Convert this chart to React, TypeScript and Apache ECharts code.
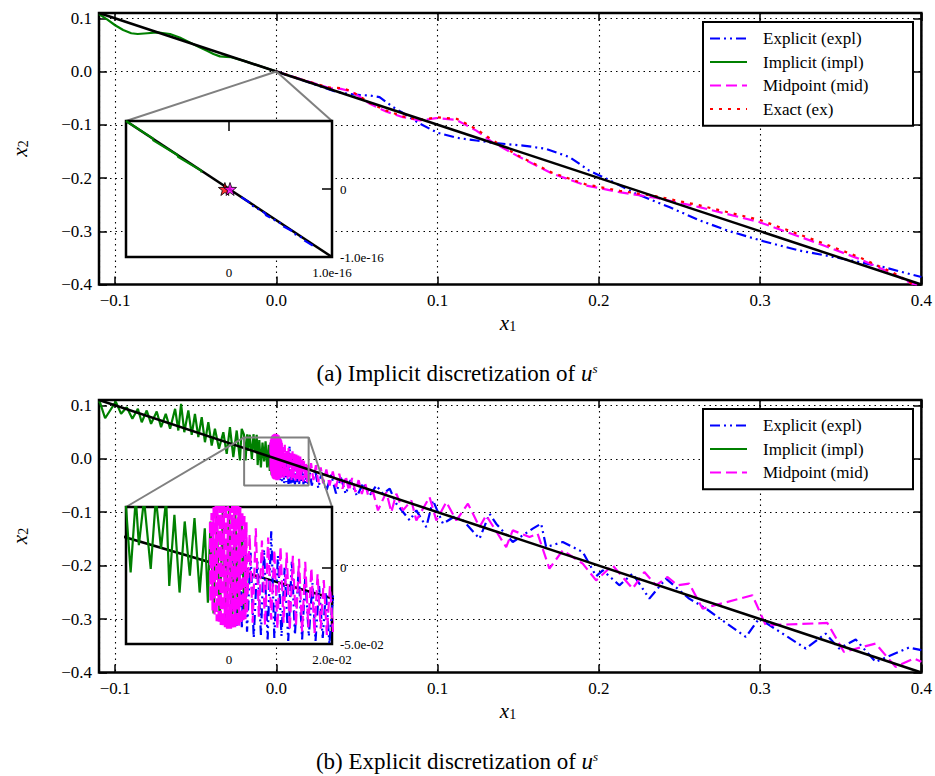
import React, { useEffect, useRef } from 'react';
import * as echarts from 'echarts';

// ---------- axis extents ----------
const MAIN_X = [-0.11, 0.4];
const MAIN_Y = [-0.4, 0.11];
const INSET_A_X = [-1e-16, 1e-16];
const INSET_A_Y = [-1e-16, 1e-16];
const INSET_B_X = [-0.02, 0.02];
const INSET_B_Y = [-0.05, 0.04];

// ---------- texts ----------
const legendA = ['Explicit (expl)', 'Implicit (impl)', 'Midpoint (mid)', 'Exact (ex)'];
const legendB = ['Explicit (expl)', 'Implicit (impl)', 'Midpoint (mid)'];
const captionA = '(a) Implicit discretization of ';
const captionB = '(b) Explicit discretization of ';

// ---------- reference line (black) ----------
const manifold = [[-0.11, 0.11], [0.4, -0.4]];
const manifoldInsetA = [[-1e-16, 1e-16], [1e-16, -1e-16]];

// ---------- panel (a) ----------
const explicitA = [[0, 0], [0.02, -0.02], [0.037, -0.038], [0.045, -0.042], [0.052, -0.044], [0.058, -0.045], [0.064, -0.048], [0.072, -0.066], [0.078, -0.077], [0.089, -0.098], [0.1, -0.115], [0.112, -0.1245], [0.124, -0.1295], [0.136, -0.1345], [0.153, -0.139], [0.167, -0.145], [0.182, -0.161], [0.194, -0.186], [0.2045, -0.201], [0.223, -0.2295], [0.244, -0.255], [0.262, -0.279], [0.28, -0.299], [0.3, -0.317], [0.324, -0.336], [0.345, -0.348], [0.36, -0.357], [0.376, -0.367], [0.4, -0.386]];
const implicitA = [[-0.11, 0.108], [-0.105, 0.098], [-0.1, 0.087], [-0.095, 0.078], [-0.09, 0.072], [-0.086, 0.0705], [-0.08, 0.072], [-0.074, 0.0735], [-0.066, 0.0705], [-0.06, 0.064], [-0.054, 0.055], [-0.048, 0.046], [-0.043, 0.039], [-0.039, 0.033], [-0.035, 0.0285], [-0.031, 0.0275], [-0.028, 0.027], [-0.02, 0.02], [0, 0]];
const midpointA = [[0, 0], [0.02, -0.019], [0.033, -0.031], [0.04, -0.0325], [0.046, -0.037], [0.052, -0.048], [0.058, -0.0606], [0.068, -0.075], [0.0785, -0.0857], [0.089, -0.0919], [0.0992, -0.0875], [0.1116, -0.0907], [0.124, -0.111], [0.134, -0.1326], [0.1508, -0.1607], [0.1714, -0.192], [0.192, -0.214], [0.2127, -0.2264], [0.235, -0.237], [0.2623, -0.2546], [0.2994, -0.2827], [0.3365, -0.3233], [0.361, -0.3514], [0.382, -0.3795], [0.394, -0.398], [0.4, -0.404]];
const exactA = [[0, 0], [0.02, -0.019], [0.033, -0.03], [0.04, -0.031], [0.046, -0.036], [0.052, -0.047], [0.058, -0.059], [0.068, -0.073], [0.078, -0.084], [0.089, -0.0905], [0.1, -0.086], [0.112, -0.089], [0.124, -0.108], [0.134, -0.129], [0.15, -0.158], [0.171, -0.19], [0.192, -0.212], [0.213, -0.224], [0.235, -0.234], [0.262, -0.251], [0.3, -0.279], [0.336, -0.319], [0.361, -0.348], [0.382, -0.377], [0.394, -0.398], [0.4, -0.41]];

// inset (a)
const insetAImplicit = [[-1.0e-16, 1.0e-16], [-0.74e-16, 0.745e-16], [-0.735e-16, 0.715e-16], [-0.5e-16, 0.5e-16], [-0.495e-16, 0.475e-16], [-0.27e-16, 0.27e-16], [-0.265e-16, 0.245e-16]];
const insetAExplicit = [[0.12e-16, -0.12e-16], [0.2e-16, -0.2e-16], [0.21e-16, -0.23e-16], [0.35e-16, -0.355e-16], [0.36e-16, -0.385e-16], [0.5e-16, -0.505e-16], [0.51e-16, -0.535e-16], [0.62e-16, -0.625e-16], [0.63e-16, -0.655e-16], [0.72e-16, -0.725e-16], [0.73e-16, -0.755e-16], [0.82e-16, -0.84e-16]];
const insetAExactStar = [[-0.04e-16, 0]];
const insetAMidStar = [[0.01e-16, 0]];

// ---------- panel (b) ----------
const implicitB = [[-0.11, 0.108], [-0.1093, 0.1047], [-0.1062, 0.0759], [-0.0996, 0.107], [-0.0963, 0.0841], [-0.0928, 0.0964], [-0.0893, 0.0748], [-0.0859, 0.0935], [-0.0835, 0.0684], [-0.0804, 0.0903], [-0.0777, 0.0654], [-0.0742, 0.0884], [-0.0715, 0.0591], [-0.0686, 0.0841], [-0.0659, 0.0561], [-0.0628, 0.0935], [-0.0608, 0.0529], [-0.0591, 0.1028], [-0.0571, 0.0497], [-0.0546, 0.0903], [-0.0525, 0.0449], [-0.0505, 0.0841], [-0.0484, 0.0404], [-0.0463, 0.0778], [-0.0443, 0.031], [-0.0422, 0.0684], [-0.0401, 0.0249], [-0.0381, 0.0561], [-0.0356, 0.0187], [-0.0329, 0.0497], [-0.0308, 0.0093], [-0.0288, 0.0591], [-0.0267, 0.003], [-0.0246, 0.0529], [-0.0226, -0.0032], [-0.0215, 0.0561],
  [-0.0201, 0.045], [-0.0191, -0.0029], [-0.0181, 0.046], [-0.0175, 0.0149], [-0.0165, 0.045], [-0.0152, -0.0007], [-0.0142, 0.046], [-0.0132, 0.0127], [-0.0122, 0.045], [-0.0116, -0.0118], [-0.0106, 0.0349], [-0.0096, -0.0162], [-0.0086, 0.0305], [-0.0076, -0.0051], [-0.0067, 0.0327], [-0.0057, -0.0162], [-0.0047, 0.026], [-0.0041, -0.0229], [-0.0036, 0.0305],
  [-0.003, -0.03], [-0.0024, 0.035], [-0.0018, -0.035], [-0.0012, 0.038], [-0.0006, -0.037], [0, 0.04], [0.0006, -0.038], [0.0012, 0.038], [0.0018, -0.037], [0.0024, 0.035], [0.003, -0.033], [0.0035, 0.0]];
const midpointB = [[-0.0037, 0.03], [-0.0036, -0.022], [-0.0034, 0.036], [-0.0032, -0.028], [-0.003, 0.04], [-0.0028, -0.032], [-0.0026, 0.043], [-0.0024, -0.035], [-0.0022, 0.045], [-0.002, -0.037], [-0.0018, 0.046], [-0.0016, -0.038], [-0.0014, 0.046], [-0.0012, -0.039], [-0.001, 0.047], [-0.0008, -0.039], [-0.0006, 0.047], [-0.0004, -0.04], [-0.0002, 0.047], [0, -0.04], [0.0002, 0.046], [0.0004, -0.04], [0.0006, 0.046], [0.0008, -0.04], [0.001, 0.045], [0.0012, -0.039], [0.0014, 0.044], [0.0016, -0.039], [0.0018, 0.042], [0.002, -0.038], [0.0022, 0.04], [0.0024, -0.037], [0.0026, 0.037], [0.0028, -0.036], [0.003, 0.034], [0.0032, -0.034], [0.0034, 0.03], [0.0035, -0.03],
  [0.004, 0.022], [0.0046, -0.036], [0.0052, 0.026], [0.0058, -0.032], [0.0064, 0.018], [0.007, -0.038], [0.0076, 0.02], [0.0082, -0.034], [0.0088, 0.012], [0.0094, -0.04], [0.01, 0.014], [0.0106, -0.036], [0.0112, 0.01], [0.0118, -0.041], [0.0124, 0.008], [0.013, -0.038], [0.0136, 0.006], [0.0142, -0.042], [0.0148, 0.004], [0.0154, -0.039], [0.016, 0.0], [0.0166, -0.043], [0.0172, -0.004], [0.0178, -0.04], [0.0184, -0.008], [0.019, -0.044], [0.0196, -0.012], [0.0202, -0.042],
  [0.0215, -0.008], [0.023, -0.04], [0.0245, -0.012], [0.026, -0.044], [0.0275, -0.016], [0.029, -0.046], [0.031, -0.02], [0.033, -0.05], [0.035, -0.024], [0.037, -0.053], [0.039, -0.028], [0.041, -0.056], [0.043, -0.032], [0.045, -0.06], [0.047, -0.036], [0.049, -0.062], [0.051, -0.04], [0.053, -0.066], [0.055, -0.045], [0.057, -0.07],
  [0.06, -0.0624], [0.063, -0.0966], [0.0682, -0.0624], [0.0713, -0.0998], [0.0744, -0.0654], [0.0785, -0.0966], [0.0837, -0.078], [0.0868, -0.1153], [0.095, -0.0717], [0.0992, -0.1153], [0.1054, -0.0811], [0.1116, -0.1153], [0.1188, -0.0841], [0.126, -0.1278], [0.1301, -0.106], [0.1425, -0.1652], [0.1466, -0.134], [0.157, -0.1465], [0.162, -0.14], [0.1693, -0.2056], [0.1776, -0.1714], [0.19, -0.1963], [0.1983, -0.2275], [0.2085, -0.1994], [0.2209, -0.243], [0.2282, -0.212], [0.2354, -0.2368], [0.2426, -0.2213], [0.2488, -0.2368], [0.256, -0.2336], [0.2643, -0.2804], [0.2952, -0.2555], [0.3035, -0.3116], [0.3417, -0.3073], [0.352, -0.3615], [0.3716, -0.3458], [0.384, -0.3895], [0.3954, -0.3738], [0.4, -0.38]];
const explicitB = [[0, 0.03], [0.0005, -0.035], [0.001, 0.03], [0.0015, -0.038], [0.002, 0.028], [0.0025, -0.04], [0.003, 0.025], [0.0035, -0.042],
  [0.0042, 0.01], [0.0048, -0.046], [0.0055, 0.005], [0.0062, -0.044], [0.0068, 0.012], [0.0075, -0.047], [0.0082, 0.024], [0.0088, -0.046], [0.0095, 0.008], [0.0102, -0.045], [0.0108, 0.0], [0.0115, -0.048], [0.0122, 0.004], [0.0128, -0.044], [0.0135, -0.002], [0.0142, -0.047], [0.0148, -0.006], [0.0155, -0.045], [0.0162, -0.01], [0.0168, -0.048], [0.0175, -0.012], [0.0182, -0.046], [0.0188, -0.016], [0.0195, -0.05], [0.0202, -0.018],
  [0.022, -0.05], [0.024, -0.02], [0.026, -0.055], [0.028, -0.026], [0.031, -0.06], [0.034, -0.03], [0.037, -0.065], [0.04, -0.035], [0.043, -0.066], [0.046, -0.04], [0.05, -0.07], [0.054, -0.045], [0.058, -0.068], [0.062, -0.05], [0.066, -0.0654], [0.0703, -0.056], [0.0744, -0.0841], [0.0827, -0.1153], [0.0868, -0.0966], [0.093, -0.1278], [0.0971, -0.078], [0.1033, -0.1215], [0.1116, -0.106], [0.1157, -0.1153], [0.126, -0.1495], [0.1322, -0.1028], [0.1363, -0.1215], [0.1466, -0.1558], [0.159, -0.1308], [0.1642, -0.1215], [0.1673, -0.1652], [0.1776, -0.1558], [0.19, -0.1745], [0.1983, -0.22], [0.2024, -0.2088], [0.2127, -0.2368], [0.2209, -0.215], [0.2313, -0.2617], [0.2416, -0.2243], [0.256, -0.2617], [0.2664, -0.2804], [0.2911, -0.3335], [0.2994, -0.299], [0.3283, -0.3551], [0.3406, -0.3271], [0.3489, -0.3551], [0.3593, -0.3383], [0.3716, -0.3802], [0.3923, -0.3533], [0.4, -0.358]];

// ---------- styles ----------
const SERIF = 'Liberation Serif';
const C = { expl: '#0000ff', impl: '#008000', mid: '#ff00ff', ex: '#ff0000', gray: '#808080', black: '#000000' };
const DASH_EXPL = [10, 4, 2, 4, 2, 4];
const DASH_MID = [11, 5];
const DASH_EX = [3, 6];
const LW = 2.2;
const STAR = 'path://M0,-10 L2.35,-3.24 L9.51,-3.09 L3.8,1.24 L5.88,8.09 L0,4 L-5.88,8.09 L-3.8,1.24 L-9.51,-3.09 L-2.35,-3.24 Z';

const fmtMain = (v: number) => v.toFixed(1).replace('-', '\u2212');
const hiddenLine = { show: false, onZero: false };

function mainXAxis(gridIndex: number, position: string) {
  const bottom = position === 'bottom';
  return {
    type: 'value', gridIndex, position, min: MAIN_X[0], max: MAIN_X[1], splitNumber: 5,
    axisLine: hiddenLine,
    axisTick: { show: true, inside: true, length: 8, lineStyle: { color: '#000', width: 1.5 } },
    axisLabel: { show: bottom, showMinLabel: false, margin: 7, color: '#000', fontFamily: SERIF, fontSize: 17, formatter: fmtMain },
    splitLine: { show: bottom, lineStyle: { color: '#000', width: 1.1, type: [1.5, 4] } },
  };
}
function mainYAxis(gridIndex: number, position: string) {
  const left = position === 'left';
  return {
    type: 'value', gridIndex, position, min: MAIN_Y[0], max: MAIN_Y[1], splitNumber: 5,
    axisLine: hiddenLine,
    axisTick: { show: true, inside: true, length: 8, lineStyle: { color: '#000', width: 1.5 } },
    axisLabel: { show: left, showMaxLabel: false, margin: 7, color: '#000', fontFamily: SERIF, fontSize: 17, formatter: fmtMain },
    splitLine: { show: left, lineStyle: { color: '#000', width: 1.1, type: [1.5, 4] } },
  };
}
function insetXAxis(gridIndex: number, range: number[], fmt: (v: number) => string, position: string) {
  const bottom = position === 'bottom';
  return {
    type: 'value', gridIndex, position, min: range[0], max: range[1], interval: range[1],
    axisLine: hiddenLine,
    axisTick: { show: !bottom, inside: true, length: 10, lineStyle: { color: '#000', width: 1.5 } },
    axisLabel: { show: bottom, margin: 9, color: '#000', fontFamily: SERIF, fontSize: 13, formatter: fmt, showMinLabel: true, showMaxLabel: true },
    splitLine: { show: false },
    z: 6,
  };
}
function insetYAxis(gridIndex: number, range: number[], interval: number, fmt: (v: number) => string) {
  return {
    type: 'value', gridIndex, position: 'right', min: range[0], max: range[1], interval,
    axisLine: hiddenLine,
    axisTick: { show: true, inside: true, length: 10, lineStyle: { color: '#000', width: 1.5 } },
    axisLabel: { show: true, margin: 8, color: '#000', fontFamily: SERIF, fontSize: 13, formatter: fmt, showMinLabel: true, showMaxLabel: true },
    splitLine: { show: false },
    z: 6,
  };
}
const near0 = (v: number, span: number) => Math.abs(v) < span * 1e-6;
const fmtInsetAX = (v: number) => (near0(v, 1e-16) ? '0' : v > 0 ? '1.0e-16' : '');
const fmtInsetAY = (v: number) => (near0(v, 1e-16) ? '0' : v < 0 ? '-1.0e-16' : '');
const fmtInsetBX = (v: number) => (near0(v, 0.02) ? '0' : v > 0 ? '2.0e-02' : '');
const fmtInsetBY = (v: number) => (near0(v, 0.05) ? '0' : v < -0.045 ? '-5.0e-02' : '');

function ln(data: number[][], xi: number, yi: number, color: string, type: any, width: number, z: number) {
  return {
    type: 'line', data, xAxisIndex: xi, yAxisIndex: yi, symbol: 'none', showSymbol: false,
    lineStyle: { color, type, width }, z, silent: true, clip: true, emphasis: { disabled: true },
  };
}
function rectPath(xr: number[], yr: number[]) {
  return [[xr[0], yr[1]], [xr[1], yr[1]], [xr[1], yr[0]], [xr[0], yr[0]], [xr[0], yr[1]]];
}
const gridBox = (left: number, top: number, width: number, height: number, z: number, bg: string) => ({
  left, top, width, height, show: true, borderColor: '#000', borderWidth: 2.5, backgroundColor: bg, z,
});

function legendGroup(x: number, y: number, names: string[], styles: any[]) {
  const h = 33 + (names.length - 1) * 23.5 + 0.3;
  const children: any[] = [{ type: 'rect', shape: { x: 0, y: 0, width: 210, height: h }, style: { fill: '#fff', stroke: '#000', lineWidth: 2 } }];
  names.forEach((n, i) => {
    const cy = 16.5 + i * 23.5;
    children.push({ type: 'line', shape: { x1: 7, y1: cy, x2: 44, y2: cy }, style: { stroke: styles[i].color, lineWidth: LW, lineDash: styles[i].dash } });
    children.push({ type: 'text', x: 60, y: cy, style: { text: n, fill: '#000', fontSize: 17, fontFamily: SERIF, align: 'left', verticalAlign: 'middle', textAlign: 'left', textVerticalAlign: 'middle' } });
  });
  return { type: 'group', x, y, children, z: 20 };
}
function textEl(x: number, y: number, text: string, rich: any, fontSize: number, rotation = 0) {
  return {
    type: 'text', x, y, rotation, z: 20,
    style: { text, rich, fill: '#000', fontSize, fontFamily: SERIF, align: 'center', verticalAlign: 'middle', textAlign: 'center', textVerticalAlign: 'middle' },
  };
}
const axisRich = { x: { fontFamily: SERIF, fontStyle: 'italic', fontSize: 21, fill: '#000' }, s: { fontFamily: SERIF, fontSize: 14, fill: '#000', verticalAlign: 'bottom' } };
const capRich = { u: { fontFamily: SERIF, fontStyle: 'italic', fontSize: 23, fill: '#000' }, s: { fontFamily: SERIF, fontStyle: 'italic', fontSize: 13, fill: '#000', verticalAlign: 'top' } };

export default function App() {
  const ref = useRef<HTMLDivElement>(null);
  useEffect(() => {
    document.body.style.margin = '0';
    if (!ref.current) return;
    const chart = echarts.init(ref.current, null, { renderer: 'svg' });
    const option: any = {
      animation: false,
      backgroundColor: '#fff',
      textStyle: { fontFamily: SERIF },
      grid: [
        gridBox(99, 13, 823.5, 271.5, 0, 'transparent'),
        gridBox(126, 121, 206, 136, 5, '#fff'),
        gridBox(99, 400, 823.5, 272.5, 0, 'transparent'),
        gridBox(126, 507, 206, 137, 5, '#fff'),
      ],
      xAxis: [
        mainXAxis(0, 'bottom'), mainXAxis(0, 'top'),
        insetXAxis(1, INSET_A_X, fmtInsetAX, 'bottom'), insetXAxis(1, INSET_A_X, fmtInsetAX, 'top'),
        mainXAxis(2, 'bottom'), mainXAxis(2, 'top'),
        insetXAxis(3, INSET_B_X, fmtInsetBX, 'bottom'), insetXAxis(3, INSET_B_X, fmtInsetBX, 'top'),
      ],
      yAxis: [
        mainYAxis(0, 'left'), mainYAxis(0, 'right'),
        insetYAxis(1, INSET_A_Y, 1e-16, fmtInsetAY),
        mainYAxis(2, 'left'), mainYAxis(2, 'right'),
        insetYAxis(3, INSET_B_Y, 0.05, fmtInsetBY),
      ],
      series: [
        // panel a main
        ln(explicitA, 0, 0, C.expl, DASH_EXPL, LW, 2),
        ln(implicitA, 0, 0, C.impl, 'solid', LW, 2),
        ln(midpointA, 0, 0, C.mid, DASH_MID, LW, 2),
        ln(exactA, 0, 0, C.ex, DASH_EX, LW, 2),
        ln(manifold, 0, 0, C.black, 'solid', 2.5, 3),
        ln(rectPath(INSET_A_X, INSET_A_Y), 0, 0, C.gray, 'solid', 2, 4),
        // inset a
        ln(manifoldInsetA, 2, 2, C.black, 'solid', 2.5, 7),
        ln(insetAImplicit, 2, 2, C.impl, 'solid', LW, 8),
        ln(insetAExplicit, 2, 2, C.expl, DASH_EXPL, LW, 8),
        { type: 'scatter', data: insetAExactStar, xAxisIndex: 2, yAxisIndex: 2, symbol: STAR, symbolSize: 13, itemStyle: { color: C.ex, borderColor: '#000', borderWidth: 1 }, z: 9, silent: true },
        { type: 'scatter', data: insetAMidStar, xAxisIndex: 2, yAxisIndex: 2, symbol: STAR, symbolSize: 13, itemStyle: { color: C.mid, borderColor: '#000', borderWidth: 1 }, z: 9, silent: true },
        // panel b main
        ln(explicitB, 4, 3, C.expl, DASH_EXPL, LW, 2),
        ln(implicitB, 4, 3, C.impl, 'solid', LW, 2),
        ln(midpointB, 4, 3, C.mid, DASH_MID, LW, 2),
        ln(manifold, 4, 3, C.black, 'solid', 2.5, 3),
        ln(rectPath(INSET_B_X, INSET_B_Y), 4, 3, C.gray, 'solid', 2, 4),
        // inset b
        ln(manifold, 6, 5, C.black, 'solid', 2.5, 7),
        ln(explicitB, 6, 5, C.expl, DASH_EXPL, LW, 8),
        ln(implicitB, 6, 5, C.impl, 'solid', LW, 8),
        ln(midpointB, 6, 5, C.mid, DASH_MID, LW, 8),
      ],
    };
    chart.setOption(option);

    const px = (xi: number, yi: number, p: number[]) => chart.convertToPixel({ xAxisIndex: xi, yAxisIndex: yi } as any, p) as number[];
    const connectors: any[] = [];
    const addConn = (mx: number, my: number, ix: number, iy: number, xr: number[], yr: number[]) => {
      [[xr[0], yr[1]], [xr[1], yr[1]]].forEach((pt) => {
        const a = px(mx, my, pt);
        const b = px(ix, iy, pt);
        if (a && b) connectors.push({ type: 'line', z: 4, shape: { x1: a[0], y1: a[1], x2: b[0], y2: b[1] }, style: { stroke: C.gray, lineWidth: 2 } });
      });
    };
    addConn(0, 0, 2, 2, INSET_A_X, INSET_A_Y);
    addConn(4, 3, 6, 5, INSET_B_X, INSET_B_Y);

    const stA = [
      { color: C.expl, dash: DASH_EXPL }, { color: C.impl, dash: null },
      { color: C.mid, dash: DASH_MID }, { color: C.ex, dash: DASH_EX },
    ];
    const graphic = [
      ...connectors,
      legendGroup(703, 22, legendA, stA),
      legendGroup(703, 409, legendB, stA.slice(0, 3)),
      textEl(508, 323, '{x|x}{s|1}', axisRich, 21),
      textEl(508, 711, '{x|x}{s|1}', axisRich, 21),
      textEl(20, 148.5, '{x|x}{s|2}', axisRich, 21, Math.PI / 2),
      textEl(20, 536, '{x|x}{s|2}', axisRich, 21, Math.PI / 2),
      textEl(457, 373, captionA + '{u|u}{s|s}', capRich, 23),
      textEl(457, 761, captionB + '{u|u}{s|s}', capRich, 23),
    ];
    chart.setOption({ graphic });
    return () => chart.dispose();
  }, []);
  return <div ref={ref} style={{ width: 935, height: 776 }} />;
}
